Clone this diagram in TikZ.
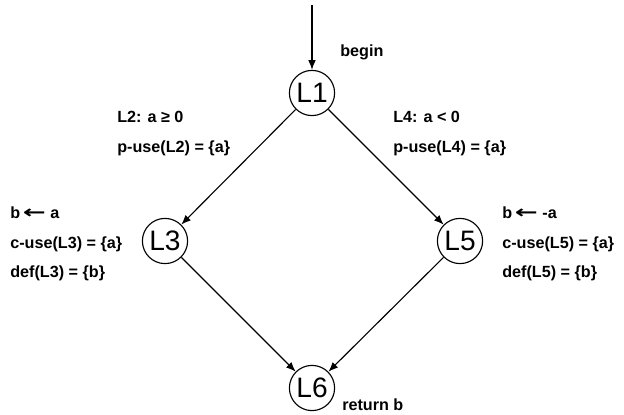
\documentclass[tikz,border=0pt]{standalone}
\usepackage{fontspec}
\setmainfont{Liberation Sans}
\newfontfamily\arrowfont{DejaVu Sans}
\usepackage{tikz}
\usetikzlibrary{arrows.meta}
\newcommand{\getsarrow}{\,\scalebox{1.7}[1.1]{\arrowfont ←}\ }

\begin{document}
\begin{tikzpicture}[x=0.025cm, y=-0.025cm, >={Latex[length=2.4mm,width=1.9mm]},
    blk/.style={circle, draw, thick, minimum size=1.13cm, inner sep=0pt, font=\fontsize{20}{22}\selectfont},
    info/.style={anchor=west, inner sep=0pt, font=\fontsize{11.5}{13}\selectfont\bfseries}]
    \useasboundingbox (0,0) rectangle (624,414);
    \coordinate (start) at (312,5);
    \node[blk] (L1) at (312,93) {L1};
    \node[blk] (L3) at (165,241) {L3};
    \node[blk] (L5) at (460,241) {L5};
    \node[blk] (L6) at (312,388) {L6};
    \draw[thick, ->] (start) -- (L1);
    \draw[thick, ->] (L1) -- (L3);
    \draw[thick, ->] (L1) -- (L5);
    \draw[thick, ->] (L3) -- (L6);
    \draw[thick, ->] (L5) -- (L6);
    \node[info] (begin) at (340,52) {begin};
    \node[info] (cond2) at (117,117) {L2: a ≥ 0};
    \node[info] (puse2) at (117,148) {p-use(L2) = \{a\}};
    \node[info] (cond4) at (393,117) {L4: a < 0};
    \node[info] (puse4) at (393,148) {p-use(L4) = \{a\}};
    \node[info] (asg3) at (10,213) {b\getsarrow a};
    \node[info] (cuse3) at (10,244) {c-use(L3) = \{a\}};
    \node[info] (def3) at (10,273) {def(L3) = \{b\}};
    \node[info] (asg5) at (502,213) {b\getsarrow -a};
    \node[info] (cuse5) at (502,244) {c-use(L5) = \{a\}};
    \node[info] (def5) at (502,273) {def(L5) = \{b\}};
    \node[info] (ret) at (342,405) {return b};
\end{tikzpicture}
\end{document}
